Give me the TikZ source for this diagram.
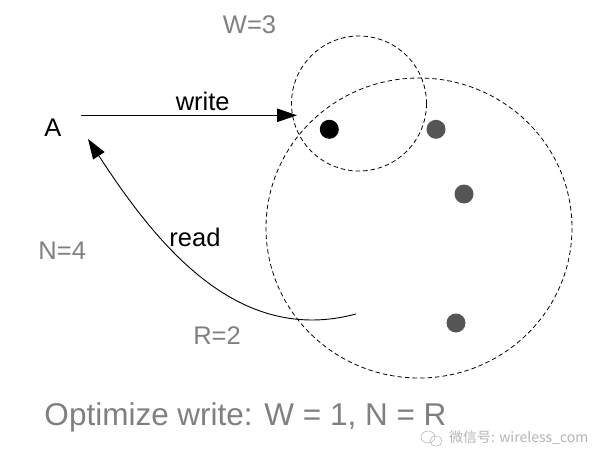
\documentclass[tikz,border=0pt]{standalone}
\usepackage{fontspec}
\setmainfont{Liberation Sans}
\newfontfamily\cjkfont{Noto Sans CJK SC}
\usetikzlibrary{arrows.meta}
\definecolor{labelgray}{HTML}{808080}
\definecolor{dotgray}{HTML}{555555}
\definecolor{wmgray}{HTML}{B4B4B4}
\begin{document}
\begin{tikzpicture}[x=1pt,y=-1pt,
  lbl/.style={inner sep=0pt,font=\fontsize{25.5}{30}\selectfont},
  graylbl/.style={lbl,text=labelgray},
  zone/.style={draw=black,line width=0.8pt,dash pattern=on 4.5pt off 3pt},
  replica/.style={circle,fill=dotgray,minimum size=19pt,inner sep=0pt},
  conn/.style={line width=0.9pt,-{Triangle[length=20pt,width=13.5pt]}}]
\useasboundingbox (0,0) rectangle (614,466);
% quorum zones
\draw[zone] (359,103.5) circle[radius=67.5];
\draw[zone] (419,228) ellipse[x radius=153,y radius=150];
% replicas
\node[replica,fill=black] (n1) at (329.3,129.3) {};
\node[replica] (n2) at (436,129.3) {};
\node[replica] (n3) at (464,194) {};
\node[replica] (n4) at (456,323) {};
% client
\node[lbl] (A) at (52.8,127.5) {A};
\coordinate (wstart) at (80.7,115.3);
\coordinate (wend) at (297,115.3);
\draw[conn] (wstart) -- (wend);
\node[lbl,anchor=base] (write) at (202.7,110.7) {write};
\coordinate (rstart) at (356,314);
\coordinate (rend) at (88,139);
\draw[conn] (rstart) .. controls (240,345) and (160,250) .. (rend);
\node[lbl,anchor=base] (read) at (195,246.7) {read};
% labels
\node[graylbl,anchor=base] (W) at (249.5,33.3) {W=3};
\node[graylbl,anchor=base] (N) at (62.2,259) {N=4};
\node[graylbl,anchor=base] (R) at (217,344.5) {R=2};
\node[lbl,text=labelgray,anchor=base,font=\fontsize{31.5}{36}\selectfont] (opt) at (245.5,425) {Optimize write: W = 1, N = R};
% watermark
\node[inner sep=0pt,anchor=west,text=wmgray,font=\fontsize{14}{16}\selectfont] (wm) at (449,438) {\cjkfont 微信号: wireless\_com};
\draw[wmgray,line width=0.6pt] (428,437) ellipse[x radius=7,y radius=6];
\draw[wmgray,line width=0.6pt] (436,441) ellipse[x radius=6,y radius=5];
\end{tikzpicture}
\end{document}
